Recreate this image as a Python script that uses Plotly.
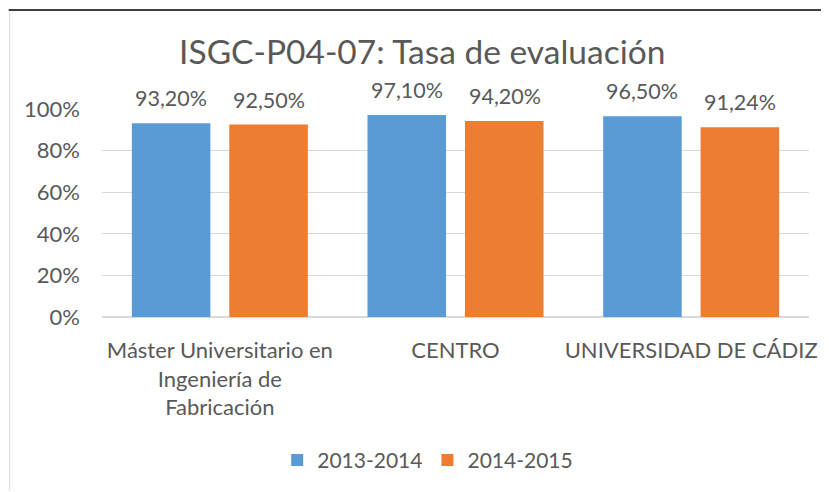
import plotly.graph_objects as go

categories = ["Máster Universitario en<br>Ingeniería de<br>Fabricación", "CENTRO", "UNIVERSIDAD DE CÁDIZ"]
series_names = ["2013-2014", "2014-2015"]
values_2013 = [93.20, 97.10, 96.50]
values_2014 = [92.50, 94.20, 91.24]
colors = ["#5B9BD5", "#ED7D31"]
y_ticks = [0, 0.2, 0.4, 0.6, 0.8, 1.0]

FONT = "Lato"
GRAY = "#595959"

def fmt(v):
    return f"{v:.2f}".replace(".", ",") + "%"

fig = go.Figure()
for name, vals, col in zip(series_names, [values_2013, values_2014], colors):
    fig.add_trace(go.Bar(
        x=categories, y=[v / 100 for v in vals], name=name,
        marker=dict(color=col, line=dict(width=0)),
    ))

annotations = []
for vals, shift in zip([values_2013, values_2014], [-49, 49]):
    for c, v in zip(categories, vals):
        annotations.append(dict(
            x=c, y=v / 100, xref="x", yref="y", text=fmt(v), showarrow=False,
            xshift=shift, yshift=25, yanchor="middle",
            font=dict(family=FONT, size=21.5, color=GRAY),
        ))

OFF = 8  # page body margin
W, H = 829 - OFF, 492 - OFF
L, R, T, B = 102 - OFF, 15, 109 - OFF, 492 - 318
pw, ph = W - L - R, H - T - B

def px_x(p):
    return (p - OFF - L) / pw

def px_y(p):
    return (H - B - (p - OFF)) / ph

shapes = [
    dict(type="line", xref="paper", yref="paper", x0=px_x(OFF), x1=px_x(829), y0=px_y(9.5), y1=px_y(9.5),
         line=dict(color="#000000", width=1.5)),
    dict(type="line", xref="paper", yref="paper", x0=px_x(9), x1=px_x(9), y0=px_y(11), y1=px_y(492),
         line=dict(color="#D9D9D9", width=1)),
]

fig.update_layout(
    width=W, height=H,
    margin=dict(l=L, r=R, t=T, b=B),
    paper_bgcolor="white", plot_bgcolor="white",
    title=dict(text="ISGC-P04-07: Tasa de evaluación", x=px_x(424.5), xref="paper", xanchor="center",
               y=(H - (52 - OFF)) / H, yref="container", yanchor="middle",
               font=dict(family=FONT, size=33.5, color=GRAY)),
    barmode="group", bargap=0.173, bargroupgap=0.194,
    font=dict(family=FONT, size=22, color=GRAY),
    xaxis=dict(showgrid=False, showline=False, ticks="", tickfont=dict(size=22, color=GRAY),
               ticklabelstandoff=18),
    yaxis=dict(range=[0, 1], tickvals=y_ticks, tickformat=".0%", showgrid=True, gridcolor="#D9D9D9",
               gridwidth=1, zeroline=True, zerolinecolor="#D9D9D9", zerolinewidth=1.5,
               showline=False, ticks="", ticklabelstandoff=21, tickfont=dict(size=22, color=GRAY)),
    legend=dict(orientation="h", x=px_x(430), xanchor="center", y=px_y(462), yanchor="middle",
                font=dict(family=FONT, size=21, color=GRAY), itemwidth=30, traceorder="normal"),
    annotations=annotations,
    shapes=shapes,
)

fig.write_html("out.html")
